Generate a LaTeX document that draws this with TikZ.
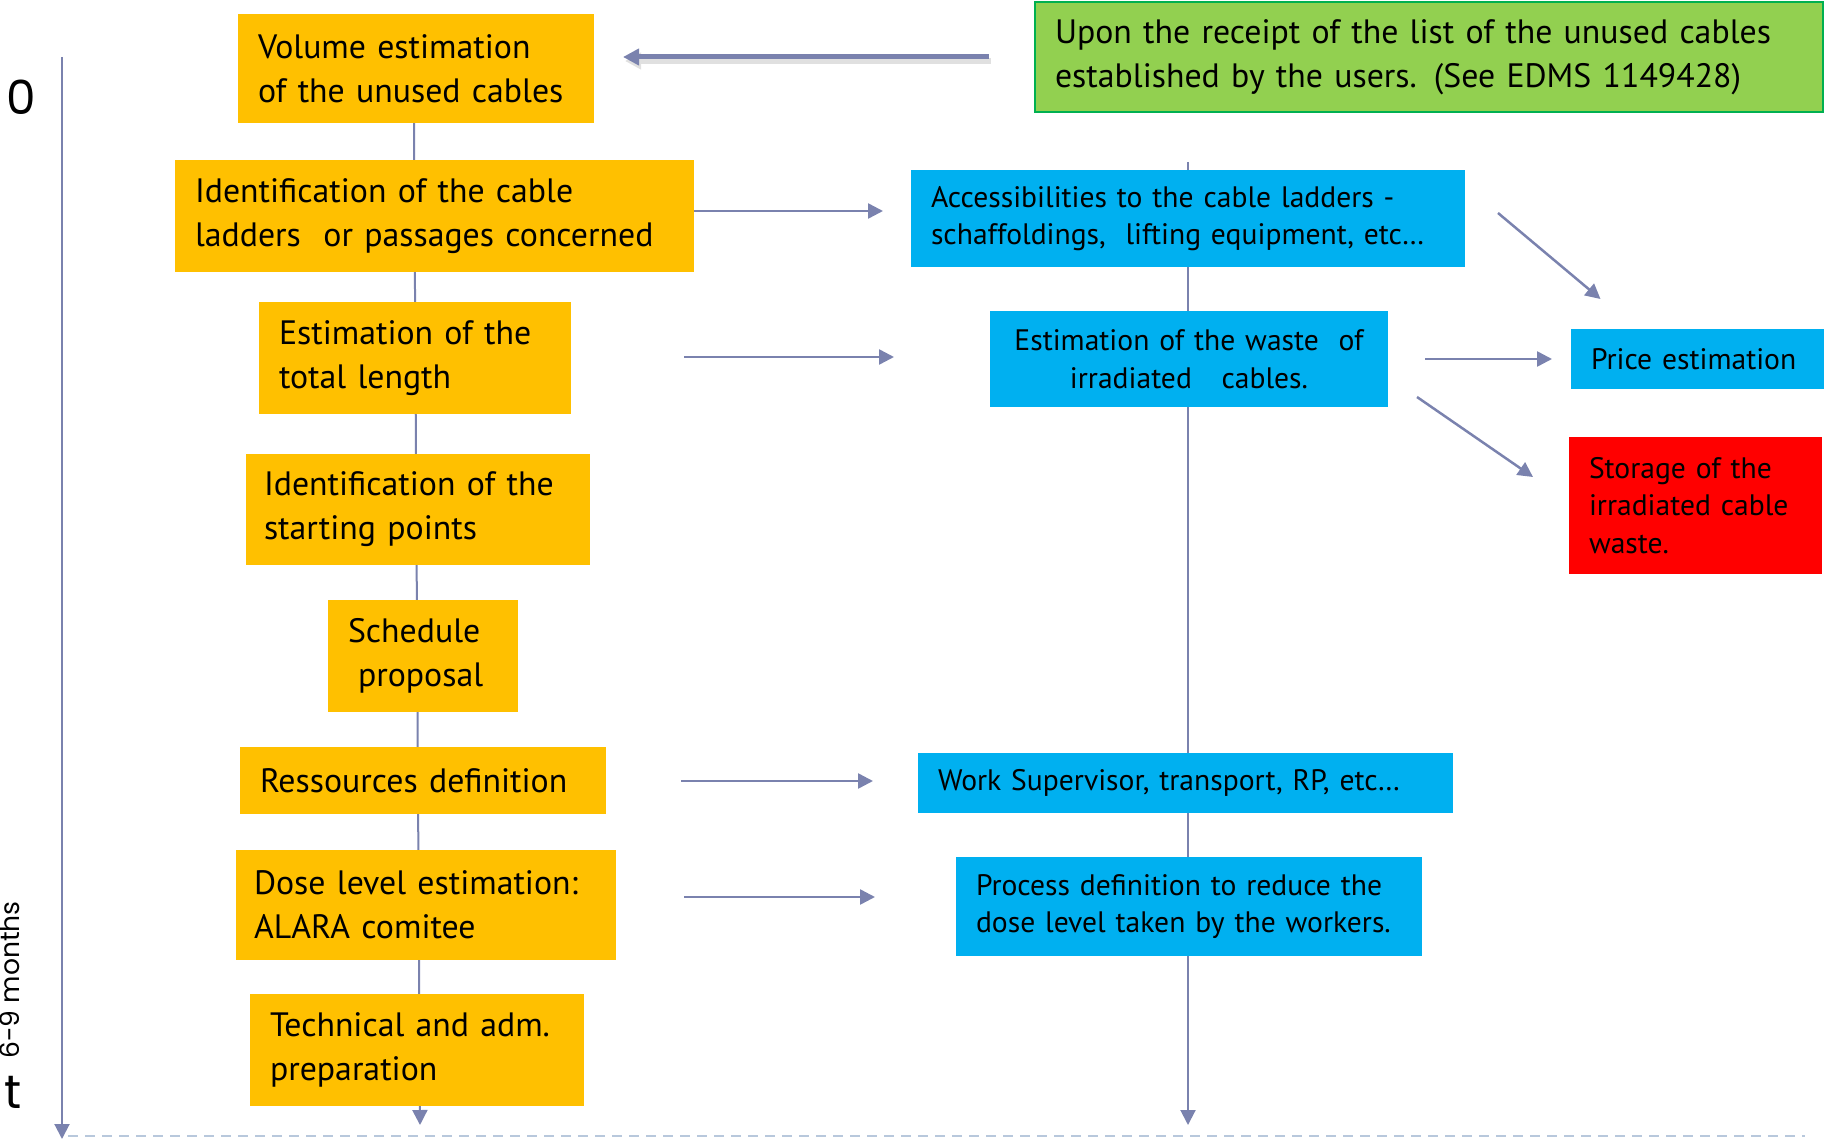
\documentclass[tikz,border=0pt]{standalone}
\usepackage{fontspec}
\setmainfont{PT Sans}
\newfontfamily\labfont{Poppins}
\usetikzlibrary{arrows.meta,calc,backgrounds}
\definecolor{ora}{HTML}{FFC000}
\definecolor{blu}{HTML}{00B0F0}
\definecolor{gre}{HTML}{92D050}
\definecolor{greb}{HTML}{00B050}
\definecolor{lin}{RGB}{122,130,174}
\definecolor{dashcol}{RGB}{184,200,220}
\hyphenpenalty=10000
\exhyphenpenalty=10000
\begin{document}
\begin{tikzpicture}[x=0.5pt,y=-0.5pt,
  base/.style={inner sep=0pt, outer sep=0pt, align=left, text=black},
  mainfont/.style={font=\fontsize{16.9}{22}\selectfont},
  smallfont/.style={font=\fontsize{14.8}{18.75}\selectfont},
  obox/.style={base, fill=ora, mainfont},
  bbox/.style={base, fill=blu, smallfont},
  conn/.style={draw=lin, line width=1pt},
  tipT/.style={-{Triangle[length=7.5pt,width=7.5pt]}},
  arr/.style={draw=lin, line width=1.25pt, tipT},
  lab/.style={inner sep=0pt, font=\labfont\fontsize{23.5}{28}\selectfont},
]
\useasboundingbox (0,0) rectangle (1825,1139);

% left column
\node[obox, minimum width=178pt, minimum height=54.5pt, text width=158pt] (vol) at (416,68.5) {Volume estimation\\of the unused cables};
\node[obox, minimum width=259.5pt, minimum height=56pt, text width=239.5pt] (idc) at (434.5,216) {Identification of the cable\\ladders~ or passages concerned};
\node[obox, minimum width=156pt, minimum height=56pt, text width=136pt] (est) at (415,358) {Estimation of the\\total length};
\node[obox, minimum width=172pt, minimum height=55.5pt, text width=154pt] (isp) at (418,509.5) {Identification of the\\starting points};
\node[obox, minimum width=95pt, minimum height=56pt, text width=75pt] (sch) at (423,656) {Schedule\\\hspace*{5pt}proposal};
\node[obox, minimum width=183pt, minimum height=33.5pt, text width=163pt] (res) at (423,780.5) {Ressources definition};
\node[obox, minimum width=190pt, minimum height=55pt, text width=172pt] (dose) at (426,905) {Dose level estimation:\\ALARA comitee};
\node[obox, minimum width=167pt, minimum height=56pt, text width=147pt] (tech) at (417,1050) {Technical and adm.\\preparation};

% right part
\node[base, fill=gre, draw=greb, line width=1pt, mainfont, minimum width=394pt, minimum height=55pt, text width=374pt] (grn) at (1429,57) {Upon the receipt of the list of the unused cables\\established by the users. (See EDMS 1149428)};
\node[bbox, minimum width=277pt, minimum height=48.5pt, text width=257pt] (acc) at (1188,218.5) {Accessibilities to the cable ladders -\\schaffoldings,~ lifting equipment, etc…};
\node[bbox, align=center, minimum width=199pt, minimum height=48pt, text width=179pt] (waste) at (1189,359) {Estimation of the waste~ of\\irradiated~~ cables.};
\node[bbox, minimum width=126.5pt, minimum height=30pt, text width=106.5pt] (price) at (1697.5,359) {Price estimation};
\node[base, fill=red, smallfont, minimum width=126.5pt, minimum height=68.5pt, text width=106.5pt] (stor) at (1695.5,505.5) {Storage of the\\irradiated cable\\waste.};
\node[bbox, minimum width=267.5pt, minimum height=30pt, text width=247.5pt] (work) at (1185.5,783) {Work Supervisor, transport, RP, etc…};
\node[bbox, minimum width=233pt, minimum height=49.5pt, text width=213pt] (proc) at (1189,906.5) {Process definition to reduce the\\dose level taken by the workers.};

% labels
\node[lab] (zero) at (21,97) {0};
\node[lab] (tlab) at (13,1092) {t};
\node[inner sep=0pt, rotate=90, font=\labfont\fontsize{13.3}{16}\selectfont] (months) at (10,980) {6-9 months};

% spines
\coordinate (spineL) at (420,1125);
\coordinate (spineR) at (1188,1125);
\begin{scope}[on background layer]
\draw[conn, tipT] ($(vol.south)+(-2,0)$) -- (spineL);
\draw[conn, tipT] ($(acc.north)+(0,-8)$) -- (spineR);
\end{scope}

% time axis and dashed baseline
\coordinate (axT) at (62,57);
\coordinate (axB) at (62,1139);
\draw[conn, tipT] (axT) -- (axB);
\coordinate (dL) at (68,1136);
\coordinate (dR) at (1805,1136);
\draw[dashcol, line width=0.8pt, dash pattern=on 5pt off 3.5pt] (dL) -- (dR);

% green arrow with soft shadow
\draw[black!12, line width=3pt, -{Triangle[length=8pt,width=8pt]}] ($(grn.west)+(-44,4)$) -- ($(vol.east)+(31,-7.5)$);
\draw[lin, line width=2.5pt, -{Triangle[length=8pt,width=8pt]}] ($(grn.west)+(-46,0)$) -- ($(vol.east)+(29,-11.5)$);

% horizontal arrows
\draw[arr] ($(idc.east)+(0,-5)$) -- ($(acc.west)+(-28,-7.5)$);
\draw[arr] ($(est.east)+(113,-1)$) -- ($(waste.west)+(-96,-2)$);
\draw[arr] ($(res.east)+(75,0.5)$) -- ($(work.west)+(-45,-2)$);
\draw[arr] ($(dose.east)+(68,-8)$) -- ($(proc.west)+(-81,-9.5)$);
\draw[arr] ($(waste.east)+(37,0)$) -- ($(price.west)+(-19,0)$);
% diagonal arrows
\draw[arr] ($(acc.east)+(33,-5.5)$) -- ($(price.north)+(-97,-30)$);
\draw[arr] ($(waste.east)+(29,38)$) -- ($(stor.west)+(-36,-28.5)$);
\end{tikzpicture}
\end{document}
